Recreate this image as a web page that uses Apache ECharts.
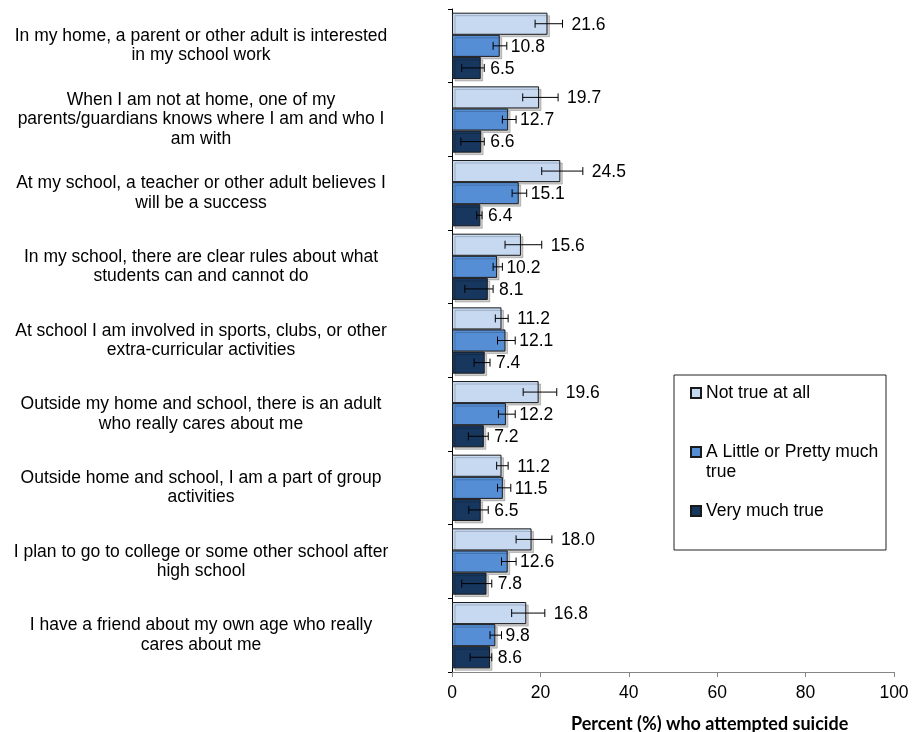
<!DOCTYPE html>
<html>
<head>
<meta charset="utf-8">
<script src="https://cdn.jsdelivr.net/npm/echarts@6/dist/echarts.min.js"></script>
<style>
html,body{margin:0;padding:0;background:#fff;}
#chart{width:912px;height:732px;}
</style>
</head>
<body>
<div id="chart"></div>
<script>
const categories = [
  'In my home, a parent or other adult is interested\nin my school work',
  'When I am not at home, one of my\nparents/guardians knows where I am and who I\nam with',
  'At my school, a teacher or other adult believes I\nwill be a success',
  'In my school, there are clear rules about what\nstudents can and cannot do',
  'At school I am involved in sports, clubs, or other\nextra-curricular activities',
  'Outside my home and school, there is an adult\nwho really cares about me',
  'Outside home and school, I am a part of group\nactivities',
  'I plan to go to college or some other school after\nhigh school',
  'I have a friend about my own age who really\ncares about me'
];
const seriesNames = ['Not true at all', 'A Little or Pretty much true', 'Very much true'];

const notTrue     = [21.6, 19.7, 24.5, 15.6, 11.2, 19.6, 11.2, 18.0, 16.8];
const notTrueLow  = [18.8, 16.0, 20.3, 12.0,  9.8, 16.1, 10.1, 14.5, 13.5];
const notTrueHigh = [25.0, 24.0, 29.6, 20.3, 12.7, 23.7, 12.7, 22.6, 21.0];

const little     = [10.8, 12.7, 15.1, 10.2, 12.1, 12.2, 11.5, 12.6,  9.8];
const littleLow  = [ 9.3, 11.4, 13.6,  9.3, 10.3, 10.5, 10.3, 11.2,  8.6];
const littleHigh = [12.4, 14.5, 16.9, 11.4, 14.3, 14.3, 13.3, 14.5, 11.2];

const very     = [6.5, 6.6, 6.4, 8.1, 7.4, 7.2, 6.5, 7.8, 8.6];
const veryLow  = [2.2, 2.0, 5.6, 2.9, 5.0, 3.7, 3.8, 2.2, 4.1];
const veryHigh = [7.3, 7.3, 6.8, 9.3, 8.6, 8.2, 8.2, 9.0, 9.0];

const xTicks = [0, 20, 40, 60, 80, 100];
const axisTitle = 'Percent (%) who attempted suicide';

const colors = ['#c6d9f1', '#558ed5', '#17375e'];
const labelGaps = [9, 4, 6];
const values = [notTrue, little, very];
const lows = [notTrueLow, littleLow, veryLow];
const highs = [notTrueHigh, littleHigh, veryHigh];
const FONT = '"Liberation Sans", Arial, sans-serif';
const CAT_GAP = 0.1;

const chart = echarts.init(document.getElementById('chart'), null, {renderer: 'canvas'});

function errRender(k) {
  return function (params, api) {
    const ci = api.value(0);
    const lo = api.value(1), hi = api.value(2), v = api.value(3);
    const band = api.size([0, 1])[1];
    const bw = band * (1 - CAT_GAP) / 3;
    const c = api.coord([0, ci]);
    const y = c[1] - band * (1 - CAT_GAP) / 2 + (k + 0.5) * bw;
    const x1 = api.coord([lo, ci])[0];
    const x2 = api.coord([hi, ci])[0];
    const cap = 4;
    const st = {stroke: '#000', lineWidth: 1};
    return {
      type: 'group',
      children: [
        {type: 'line', shape: {x1: x1, y1: y, x2: x2, y2: y}, style: st},
        {type: 'line', shape: {x1: x1, y1: y - cap, x2: x1, y2: y + cap}, style: st},
        {type: 'line', shape: {x1: x2, y1: y - cap, x2: x2, y2: y + cap}, style: st},
        {type: 'text', x: x2 + labelGaps[k], y: y + 1, style: {
          text: v.toFixed(1), fill: '#000', font: '17.5px ' + FONT,
          align: 'left', verticalAlign: 'middle'}}
      ]
    };
  };
}

const series = [];
for (let k = 0; k < 3; k++) {
  series.push({
    name: seriesNames[k],
    type: 'bar',
    data: values[k],
    barGap: '0%',
    barCategoryGap: (CAT_GAP * 100) + '%',
    itemStyle: {
      color: colors[k], borderColor: '#1a1a1a', borderWidth: 1,
      shadowColor: 'rgba(0,0,0,0.2)', shadowOffsetX: 2.5, shadowOffsetY: 2.5, shadowBlur: 0
    },
    emphasis: {disabled: true},
    z: 2
  });
}
for (let k = 0; k < 3; k++) {
  series.push({
    type: 'custom',
    name: 'err' + k,
    renderItem: errRender(k),
    encode: {y: 0, x: [1, 2]},
    data: categories.map((c, i) => [i, lows[k][i], highs[k][i], values[k][i]]),
    z: 5,
    silent: true
  });
}

const option = {
  animation: false,
  backgroundColor: '#fff',
  grid: {left: 452, right: 18, top: 9, bottom: 60, containLabel: false},
  xAxis: {
    type: 'value', min: 0, max: 100, interval: 20,
    axisLine: {show: true, lineStyle: {color: '#868686', width: 1}},
    axisTick: {show: true, length: 5, lineStyle: {color: '#868686'}},
    axisLabel: {color: '#000', fontSize: 17.5, fontFamily: FONT, margin: 12,
      formatter: function (v) { return xTicks.indexOf(v) >= 0 ? String(v) : ''; }},
    splitLine: {show: false}
  },
  yAxis: {
    type: 'category', inverse: true, data: categories,
    axisLine: {show: true, lineStyle: {color: '#000', width: 1}},
    axisTick: {show: true, length: 4, lineStyle: {color: '#000'}},
    axisLabel: {color: '#000', fontSize: 17.5, fontFamily: FONT, lineHeight: 19.5,
      align: 'center', margin: 251, interval: 0},
    splitLine: {show: false}
  },
  legend: {
    data: seriesNames,
    orient: 'vertical', left: 674, top: 375,
    padding: [8, 2, 29, 16],
    itemGap: 19, itemWidth: 10, itemHeight: 10,
    borderColor: '#222', borderWidth: 1,
    icon: 'rect',
    formatter: function (name) { return name === seriesNames[1] ? ' \n' + name : name; },
    textStyle: {color: '#000', fontSize: 17.5, fontFamily: FONT, lineHeight: 20,
      width: 178, overflow: 'break'}
  },
  graphic: [{
    type: 'text', left: 571, top: 715,
    style: {text: axisTitle, fill: '#000', font: 'bold 18px Lato, "Open Sans", sans-serif'}
  }],
  series: series
};
chart.setOption(option);
</script>
</body>
</html>
